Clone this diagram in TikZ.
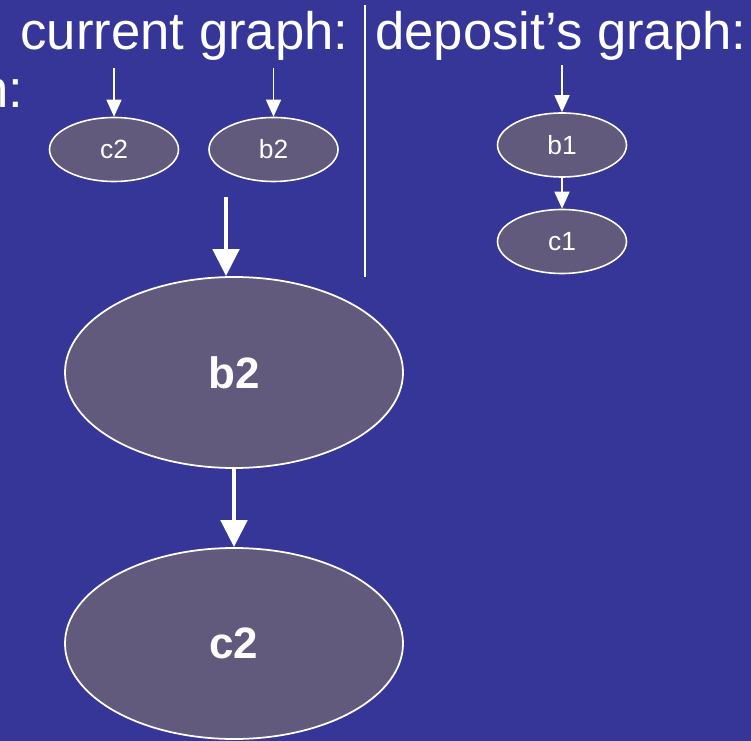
\documentclass[tikz,border=0pt]{standalone}
\usepackage{fontspec}
\setmainfont{Liberation Sans}
\usetikzlibrary{arrows.meta,shapes.geometric,positioning}
\definecolor{slidebg}{RGB}{54,54,152}
\definecolor{nodefill}{RGB}{98,90,124}
\tikzset{
    smallnd/.style={
    ellipse,draw=white,fill=nodefill,line width=0.9pt,text=white,
    minimum width=2.58cm,minimum height=1.28cm,inner sep=0pt,font=\fontsize{15}{18}\selectfont
    },
    bignd/.style={
    ellipse,draw=white,fill=nodefill,line width=1pt,text=white,
    minimum width=6.76cm,minimum height=3.82cm,inner sep=0pt,font=\fontsize{25}{30}\selectfont\bfseries
    },
    heading/.style={
    text=white,inner sep=0pt,font=\fontsize{30}{36}\selectfont
    },
    thinarr/.style={
    white,line width=0.85pt,-{Triangle[width=0.30cm,length=0.34cm]}
    },
    thickarr/.style={
    white,line width=2.8pt,-{Triangle[width=0.52cm,length=0.54cm]}
    },
}
\begin{document}
\begin{tikzpicture}
   \fill[slidebg] (0,0) rectangle (15.02,-14.82);
   \useasboundingbox (0,0) rectangle (15.02,-14.82);
   \clip (0,0) rectangle (15.02,-14.82);

   %headings
   \node[heading,anchor=base east] (nlbl) at (0.48,-2.16) {n:};
   \node[heading,anchor=base west] (curlbl) at (0.40,-1.0) {current graph:};
   \node[heading,anchor=base west] (deplbl) at (7.50,-1.0) {deposit’s graph:};
   \draw[white,line width=1.1pt] (7.30,-0.10) -- (7.30,-5.54);

   %current graph
   \node[smallnd] (c2s) at (2.28,-2.99) {c2};
   \node[smallnd] (b2s) at (5.47,-2.99) {b2};
   \coordinate (c2in) at (2.28,-1.36);
   \coordinate (b2in) at (5.47,-1.36);

   %deposit's graph
   \node[smallnd] (b1) at (11.24,-2.90) {b1};
   \node[smallnd] (c1) at (11.24,-4.83) {c1};
   \coordinate (b1in) at (11.24,-1.30);

   %merged
   \node[bignd] (b2) at (4.68,-7.45) {b2};
   \node[bignd] (c2) at (4.68,-12.87) {c2};
   \coordinate (mrgin) at (4.52,-3.94);

  \path
    (c2in) edge[thinarr] (c2s.north)
    (b2in) edge[thinarr] (b2s.north)
    (b1in) edge[thinarr] (b1.north)
    (b1) edge[thinarr] (c1)
    (mrgin) edge[thickarr] (mrgin |- b2.north)
    (b2) edge[thickarr] (c2);
\end{tikzpicture}
\end{document}
